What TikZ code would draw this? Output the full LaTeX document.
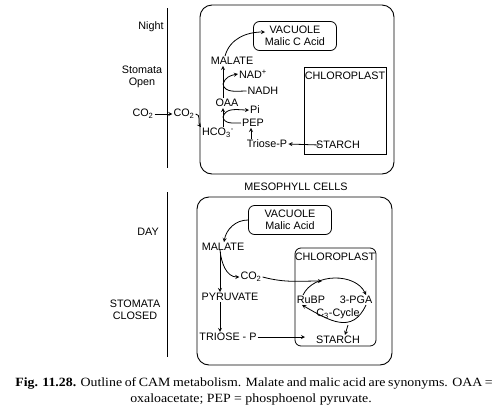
\documentclass[tikz,border=0pt]{standalone}
\usepackage{fontspec}
\setmainfont{Liberation Serif}
\setsansfont{Liberation Sans}
\usepackage[]{tikz}
\usetikzlibrary{positioning}
\tikzset{lbl/.style={font=\sffamily\fontsize{10.8}{11.8}\selectfont,inner sep=1pt},
         cell/.style={line width=0.9pt,rounded corners=12pt},
         vac/.style={lbl,draw,line width=0.8pt,rounded corners=6pt,align=center,minimum width=83pt,minimum height=29pt},
         flow/.style={->,>=stealth,line width=0.8pt},
         capt/.style={font=\fontsize{12.6}{14}\selectfont,inner sep=0pt}}

\begin{document}
\begin{tikzpicture}[x=1pt,y=-1pt] %y轴向下, 按像素定位
            \useasboundingbox (0,0) rectangle (504,413);
            \draw[line width=0.8pt] (167,8)--(167,168);
            \draw[line width=0.8pt] (167,192)--(167,357);  % 分隔线
            \draw[cell] (200,5) rectangle (394,174);
            \draw[cell] (197,197) rectangle (392,365);
            % 夜间
            \node[lbl] (night) at (151,27) {Night};
            \node[lbl,align=center] (open) at (142,77) {Stomata\\Open};
            \node[lbl] (co2a) at (143,114) {CO\textsubscript{2}};
            \node[lbl] (co2b) at (184,114) {CO\textsubscript{2}};
            \node[lbl] (hco3) at (218,133) {HCO\textsubscript{3}\textsuperscript{-}};
            \node[lbl] (oaa) at (227,103) {OAA};
            \node[lbl] (malN) at (232,61) {MALATE};
            \node[lbl] (nad) at (253,74) {NAD\textsuperscript{+}};
            \node[lbl] (nadh) at (263,91) {NADH};
            \node[lbl] (pi) at (255,110) {Pi};
            \node[lbl] (pep) at (253,123) {PEP};
            \node[lbl] (trioseN) at (267,144) {Triose-P};
            \node[vac] (vacN) at (295,36) {VACUOLE\\Malic C Acid};
            \draw[line width=0.8pt] (304,67) rectangle (386,154);
            \node[lbl] (chlN) at (345,76) {CHLOROPLAST};
            \node[lbl] (starchN) at (338,145) {STARCH};
            \coordinate (axN) at (223,0);
            \coordinate (jN1) at (223,117);
            \coordinate (jN2) at (223,84);
            \draw[flow] (co2a)--(co2b);
            \draw[flow] (co2b.east) to[out=0,in=125] (hco3.north west);
            \draw[flow] (hco3.north -| axN)--(oaa.south -| axN);
            \draw[flow] (oaa.north -| axN)--(malN.south -| axN);
            \draw[flow] (pep.west) to[out=180,in=-80] (jN1) to[out=75,in=180] (pi.west);
            \draw[flow] (nadh.west) to[out=180,in=-80] (jN2) to[out=75,in=190] (nad.west);
            \draw[flow] ([xshift=-7pt]malN.north) to[out=75,in=180] ([xshift=-30pt,yshift=4pt]vacN.center);
            \draw[flow] ([xshift=-16pt]trioseN.north)--([xshift=-2pt]pep.south);
            \draw[flow] ([xshift=4pt]starchN.west)--(trioseN.east);
            \node[lbl] (meso) at (296,187) {MESOPHYLL CELLS};
            % 白天
            \node[lbl] (day) at (148,232) {DAY};
            \node[lbl,align=center] (closed) at (135,310) {STOMATA\\CLOSED};
            \node[vac] (vacD) at (290,220) {VACUOLE\\Malic Acid};
            \node[lbl] (malD) at (223,247) {MALATE};
            \node[lbl] (co2D) at (251,277) {CO\textsubscript{2}};
            \node[lbl] (pyr) at (230,297) {PYRUVATE};
            \node[lbl] (trioseD) at (228,337) {TRIOSE - P};
            \draw[line width=0.8pt,rounded corners=6pt] (295,248) rectangle (376,346);
            \node[lbl] (chlD) at (335,257) {CHLOROPLAST};
            \node[lbl] (rubp) at (311,300) {RuBP};
            \node[lbl] (pga) at (356,300) {3-PGA};
            \node[lbl] (c3) at (338,314) {C\textsubscript{3}-Cycle};
            \node[lbl] (starchD) at (338,340) {STARCH};
            \coordinate (axD) at (220,0);
            \coordinate (cyIn) at (322,281);
            \coordinate (cyOut) at (348,325);
            \draw[flow] (vacD.west) to[out=180,in=80] ([xshift=1pt]malD.north);
            \draw[flow] (malD.south -| axD)--(pyr.north -| axD);
            \draw[flow] (pyr.south -| axD)--(trioseD.north -| axD);
            \draw[flow] ([yshift=2pt]malD.south -| axD) to[out=-85,in=180] (co2D.west);
            \draw[flow] (co2D.east) to[out=-15,in=180] (cyIn);
            \draw[flow] ([xshift=-8pt]rubp.north) to[out=65,in=115] ([xshift=10pt]pga.north);
            \draw[flow] ([xshift=10pt]pga.south) to[out=-115,in=-30,looseness=1.3] ([xshift=-9pt]rubp.south);
            \draw[flow] (cyOut)--([xshift=7pt]starchD.north);
            \draw[flow] (trioseD.east)--([xshift=-10pt]trioseD.east -| starchD.west);
            % 图注
            \node[capt] (cap1) at (254,383)
                {\scalebox{1.1}[1]{\makebox[434pt][s]{\textbf{Fig. 11.28.} Outline of CAM metabolism. Malate and malic acid are synonyms. OAA =}}};
            \node[capt] (cap2) at (251,399) {\scalebox{1.1}[1]{oxaloacetate; PEP = phosphoenol pyruvate.}};
        \end{tikzpicture}
\end{document}
